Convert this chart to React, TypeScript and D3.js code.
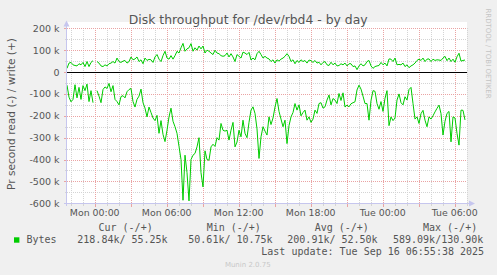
import React from "react";
import * as d3 from "d3";

// ---- data (kB/s), 10-minute samples starting at startTime; null = no data
const startTime = "2025-09-14T21:41:30Z";
const stepMinutes = 10;
const spanMinutes = 2000;

const readK: (number | null)[] = [
  60, 115, 136, 125, 58, 118, 70, 125, 62, 85, 55, 135, 85, 140,
  null,
  85, 110, 140, 80, 68, 75, 52, 90, 62, 125, 135, 150, 112, 108, 118, 90, 80, 75, 135, 160,
  125, 110, 78, 140, 165, 205, 160, 185, 210, 222, 198, 280, 222, 285, 318,
  266, 205, 165, 225, 250, 280, 340, 400, 586, 380, 460, 589, 400, 380, 372, 342, 300, 460, 525, 360,
  400, 403, 342, 330, 340, 300, 311, 235, 266, 270, 266, 311, 266, 230, 342, 320, 266, 296, 220, 280,
  300, 230, 174, 159, 189, 260, 395, 296, 250, 270,
  288, 205, 240, 210, 160, 121, 180, 215, 250, 220, 327, 245, 205, 185, 144, 174, 150, 200, 185, 174,
  220, 205, 230, 215, 174, 189, 144, 140, 165, 159, 128, 105, 150, 121, 128, 144, 98, 130, 95, 160,
  151, 159, 145, 140, 136, 82, 60, 78, 110, 144,
  144, 220, 130, 85, 88, 144, 170, 135, 180, 120, 85, 245, 205, 222, 210, 128, 100, 140, 150, 113,
  128, 80, 70, 144, 215, 205, 235, 190, 175, 220, 250, 205, 215, 200, 182, 166, 151, 190, 288, 225,
  189, 180, 319, 205, 210, 280, 334, 174, 175, 219,
];

const writeK: (number | null)[] = [
  17, 41, 44, 33, 30, 28, 38, 33, 44, 25, 48, 25, 44, 52,
  null,
  48, 41, 28, 25, 33, 28, 38, 41, 48, 41, 64, 48, 44, 50, 53, 41, 48, 69, 56, 60,
  69, 48, 56, 38, 64, 53, 58, 56, 44, 69, 80, 59, 48, 75, 95,
  64, 59, 75, 59, 75, 95, 87, 111, 131, 95, 106, 111, 130, 95, 111, 100, 119, 106, 119, 87,
  100, 95, 87, 80, 100, 87, 84, 75, 72, 75, 87, 69, 84, 69, 48, 80, 72, 64, 91, 87,
  80, 90, 55, 64, 56, 84, 95, 80, 64, 72,
  64, 60, 48, 56, 41, 56, 50, 59, 64, 72, 84, 72, 48, 56, 38, 53, 44, 56, 48, 53,
  41, 55, 52, 44, 53, 41, 45, 33, 44, 48, 33, 30, 45, 33, 41, 28, 30, 38, 33, 41,
  28, 38, 38, 25, 28, 11, 28, 38, 28, 33,
  48, 53, 28, 17, 25, 28, 30, 44, 33, 41, 28, 60, 59, 48, 64, 33, 35, 33, 41, 25,
  33, 20, 28, 33, 41, 53, 59, 53, 64, 48, 59, 60, 48, 59, 53, 56, 55, 53, 64, 72,
  52, 64, 48, 59, 45, 70, 86, 50, 53, 55,
];

const yMajorTicks = [200, 100, 0, -100, -200, -300, -400, -500, -600];
const yTickLabels = ["200 k", "100 k", "0", "-100 k", "-200 k", "-300 k", "-400 k", "-500 k", "-600 k"];
const yMinorTicks = [150, 50, -50, -150, -250, -350, -450, -550];
const xLabelTimes = [
  "2025-09-15T00:00:00Z", "2025-09-15T06:00:00Z", "2025-09-15T12:00:00Z",
  "2025-09-15T18:00:00Z", "2025-09-16T00:00:00Z", "2025-09-16T06:00:00Z",
];

const title = "Disk throughput for /dev/rbd4 - by day";
const yTitle = "Pr second read (-) / write (+)";
const seriesName = "Bytes";
const legendHeads = ["Cur (-/+)", "Min (-/+)", "Avg (-/+)", "Max (-/+)"];
const legendVals = ["218.84k/ 55.25k", "50.61k/ 10.75k", "200.91k/ 52.50k", "589.09k/130.90k"];
const lastUpdate = "Last update: Tue Sep 16 06:55:38 2025";
const watermark = "RRDTOOL / TOBI OETIKER";
const footer = "Munin 2.0.75";

export default function App() {
  const W = 497, H = 275;
  const L = 67, R = 467, T = 28.3, B = 203.3;
  const t0 = new Date(startTime).getTime();
  const t1 = t0 + spanMinutes * 60000;
  const x = d3.scaleUtc().domain([new Date(t0), new Date(t1)]).range([L, R]);
  const y = d3.scaleLinear().domain([-600, 200]).range([B, T]);
  const px = (v: number) => Math.round(v) + 0.5;

  const times = readK.map((_, i) => new Date(t0 + i * stepMinutes * 60000));
  const readPts = readK.map((v, i) => ({ t: times[i], v: v == null ? null : -v }));
  const writePts = writeK.map((v, i) => ({ t: times[i], v }));
  const line = d3
    .line<{ t: Date; v: number | null }>()
    .defined((d) => d.v != null)
    .x((d) => x(d.t))
    .y((d) => y(d.v as number));

  const hours = d3.utcHour.range(new Date(t0), new Date(t1));
  const major = hours.filter((d) => d.getUTCHours() % 3 === 0);
  const minor = hours.filter((d) => d.getUTCHours() % 3 !== 0);
  const fmt = d3.utcFormat("%a %H:%M");

  const red = "#eaa3a3";
  const grey = "#d4d4d4";
  const axisCol = "#c6c6ee";
  const txt = "#555";
  const mono = "'DejaVu Sans Mono', monospace";
  const sans = "'DejaVu Sans', sans-serif";

  return (
    <svg width={W} height={H} style={{ position: "absolute", left: 0, top: 0 }}>
      <rect x={0} y={0} width={W} height={H} fill="#f0f0f0" />
      <rect x={L} y={22} width={R - L} height={B - 22} fill="#ffffff" />

      <g shapeRendering="crispEdges">
        {minor.map((d, i) => (
          <line key={"vm" + i} x1={px(x(d))} x2={px(x(d))} y1={T} y2={B} stroke={grey} strokeDasharray="1,1" />
        ))}
        {yMinorTicks.map((v, i) => (
          <line key={"hm" + i} x1={L} x2={R} y1={px(y(v))} y2={px(y(v))} stroke={grey} strokeDasharray="1,1" />
        ))}
        {major.map((d, i) => (
          <line key={"vM" + i} x1={px(x(d))} x2={px(x(d))} y1={T} y2={B} stroke={red} strokeDasharray="1,1" />
        ))}
        {yMajorTicks.filter((v) => v !== 0).map((v, i) => (
          <line key={"hM" + i} x1={L} x2={R} y1={px(y(v))} y2={px(y(v))} stroke={red} strokeDasharray="1,1" />
        ))}
        {minor.map((d, i) => (
          <line key={"tm" + i} x1={px(x(d))} x2={px(x(d))} y1={px(B)} y2={px(B) + 2} stroke={grey} />
        ))}
        {major.map((d, i) => (
          <line key={"tM" + i} x1={px(x(d))} x2={px(x(d))} y1={px(B)} y2={px(B) + 3} stroke={red} />
        ))}
        {yMinorTicks.map((v, i) => (
          <line key={"ym" + i} x1={L - 2} x2={L} y1={px(y(v))} y2={px(y(v))} stroke={grey} />
        ))}
        {yMajorTicks.map((v, i) => (
          <line key={"yM" + i} x1={L - 3} x2={L} y1={px(y(v))} y2={px(y(v))} stroke={red} />
        ))}
      </g>

      <path d={line(writePts) || ""} fill="none" stroke="#00cc00" strokeWidth={1} />
      <path d={line(readPts) || ""} fill="none" stroke="#00cc00" strokeWidth={1} />

      <line x1={L} x2={R} y1={px(y(0))} y2={px(y(0))} stroke="#000" shapeRendering="crispEdges" />

      {/* axes */}
      <g shapeRendering="crispEdges">
        <line x1={L - 3} x2={R + 2} y1={px(B)} y2={px(B)} stroke={axisCol} />
        <line x1={px(L - 1)} x2={px(L - 1)} y1={25} y2={B + 3} stroke={axisCol} />
      </g>
      <path d={`M${L - 3.5},26.5 L${L + 2.5},26.5 L${L - 0.5},20.5 Z`} fill={axisCol} />
      <path d={`M${R + 2},${px(B) - 3} L${R + 2},${px(B) + 3} L${R + 8},${px(B)} Z`} fill={axisCol} />

      {yMajorTicks.map((v, i) => (
        <text key={"yl" + i} x={59.5} y={y(v) + 3.5} textAnchor="end" fontFamily={sans} fontSize={9.5} fill={txt}>
          {yTickLabels[i]}
        </text>
      ))}
      {xLabelTimes.map((s, i) => {
        const d = new Date(s);
        return (
          <text key={"xl" + i} x={x(d)} y={215.7} textAnchor="middle" fontFamily={sans} fontSize={9.4} fill={txt}>
            {fmt(d)}
          </text>
        );
      })}

      <text x={248.2} y={24.4} textAnchor="middle" fontFamily={sans} fontSize={12.4} fill={txt}>
        {title}
      </text>
      <text transform="translate(15,114) rotate(-90)" textAnchor="middle" fontFamily={sans} fontSize={10.6} fill={txt}>
        {yTitle}
      </text>
      <text transform="translate(485.5,53.5) rotate(90)" textAnchor="middle" fontFamily={sans} fontSize={7} fill="#c4c4c4">
        {watermark}
      </text>

      <rect x={14} y={237.3} width={5.4} height={5.4} fill="#00cc00" />
      <text x={26.5} y={243} fontFamily={mono} fontSize={10} fill={txt}>{seriesName}</text>
      {[98.5, 206.7, 314.7, 423].map((xx, i) => (
        <text key={"lh" + i} x={xx} y={230.5} fontFamily={mono} fontSize={10} fill={txt}>{legendHeads[i]}</text>
      ))}
      {[77.3, 188.3, 287.3, 393].map((xx, i) => (
        <text key={"lv" + i} x={xx} y={243} fontFamily={mono} fontSize={10} fill={txt}>{legendVals[i]}</text>
      ))}
      <text x={261.3} y={254.8} fontFamily={mono} fontSize={10} fill={txt}>{lastUpdate}</text>
      <text x={247.8} y={267} textAnchor="middle" fontFamily={sans} fontSize={7} fill="#c8c8c8">{footer}</text>
    </svg>
  );
}
